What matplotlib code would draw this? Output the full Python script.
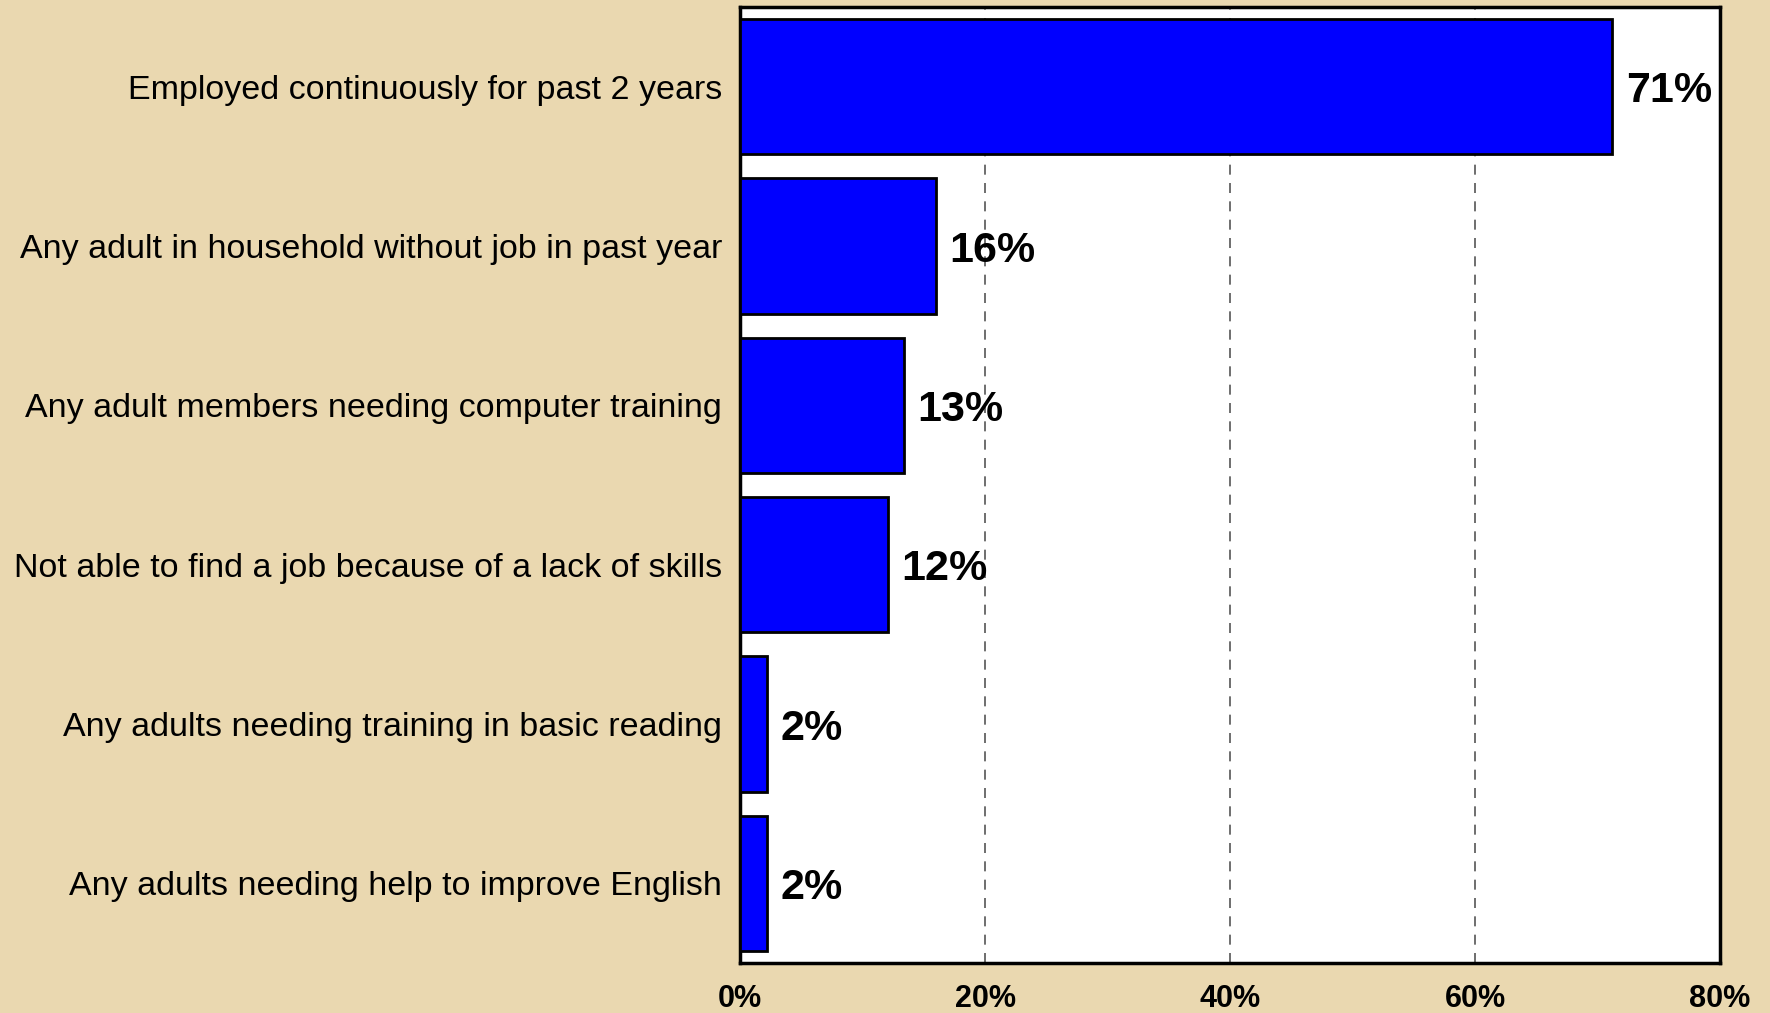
import matplotlib
matplotlib.use("Agg")
import matplotlib.pyplot as plt
from matplotlib import font_manager

categories = [
    "Employed continuously for past 2 years",
    "Any adult in household without job in past year",
    "Any adult members needing computer training",
    "Not able to find a job because of a lack of skills",
    "Any adults needing training in basic reading",
    "Any adults needing help to improve English",
]
values = [71.2, 16, 13.4, 12.1, 2.2, 2.2]
value_labels = ["71%", "16%", "13%", "12%", "2%", "2%"]
xticks = [0, 20, 40, 60, 80]
xtick_labels = ["0%", "20%", "40%", "60%", "80%"]

names = {f.name for f in font_manager.fontManager.ttflist}
narrow = ["Liberation Sans Narrow", "Liberation Sans"] if "Liberation Sans Narrow" in names else ["Liberation Sans"]

bg = "#EAD8B0"
fig = plt.figure(figsize=(17.7, 10.13), dpi=100, facecolor=bg)
ax = fig.add_axes([740/1770, 1-963/1013, 980/1770, 956/1013])
ax.set_facecolor("white")

y = list(range(len(categories)))
ax.barh(y, values, height=0.85, color="#0000FF", edgecolor="black", linewidth=2, zorder=3)
ax.set_xlim(0, 80)
ax.set_ylim(len(categories) - 0.5, -0.5)

for yi, v, lab in zip(y, values, value_labels):
    ax.text(v + 1.1, yi, lab, va="center_baseline", ha="left", fontsize=31, fontweight="bold",
            family="Liberation Sans", zorder=4)

ax.set_yticks(y)
ax.set_yticklabels(categories, fontsize=24.5, family="Liberation Sans")
ax.tick_params(axis="y", length=0, pad=13)
ax.set_xticks(xticks)
ax.set_xticklabels(xtick_labels, fontsize=22, fontweight="bold", family=narrow)
ax.tick_params(axis="x", length=0, pad=15)

for xv in xticks[1:-1]:
    ax.axvline(xv, color="#555555", linestyle=(0, (6, 5)), linewidth=1.2, zorder=1)

for s in ax.spines.values():
    s.set_linewidth(2.5)
    s.set_color("black")

fig.savefig("out.png", dpi=100, facecolor=bg)
